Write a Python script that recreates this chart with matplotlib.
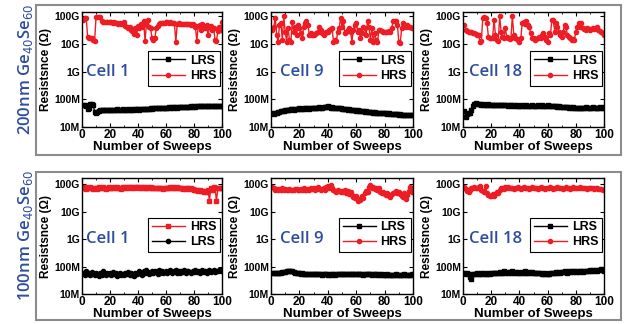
import numpy as np
import matplotlib
matplotlib.use("Agg")
import matplotlib.pyplot as plt
from matplotlib.patches import Rectangle

# sweep index and resistance values (stored as log10 of ohms)
sweeps = np.arange(1, 101)

top_cell1_hrs = [10.85, 10.92, 10.93, 10.25, 10.22, 10.2, 10.2, 10.15, 10.1, 10.95,
                 10.97, 10.96, 10.95, 10.82, 10.78, 10.78, 10.79, 10.78, 10.77, 10.78,
                 10.77, 10.76, 10.77, 10.75, 10.74, 10.72, 10.75, 10.7, 10.76, 10.8,
                 10.65, 10.6, 10.55, 10.62, 10.5, 10.45, 10.35, 10.55, 10.3, 10.65,
                 10.55, 10.7, 10.6, 10.82, 10.1, 10.7, 10.85, 10.6, 10.55, 10.2,
                 10.15, 10.2, 10.55, 10.65, 10.7, 10.74, 10.75, 10.76, 10.76, 10.77,
                 10.77, 10.76, 10.77, 10.76, 10.75, 10.76, 10.05, 10.72, 10.74, 10.73,
                 10.72, 10.73, 10.72, 10.71, 10.72, 10.7, 10.7, 10.69, 10.7, 10.68,
                 10.6, 10.1, 10.65, 10.68, 10.5, 10.7, 10.62, 10.55, 10.68, 10.3,
                 10.6, 10.65, 10.5, 10.55, 10.15, 10.1, 10.45, 10.6, 10.5, 10.8]
top_cell1_lrs = [7.8, 7.78, 7.76, 7.65, 7.7, 7.82, 7.84, 7.8, 7.55, 7.52,
                 7.55, 7.58, 7.6, 7.6, 7.61, 7.6, 7.62, 7.61, 7.6, 7.62,
                 7.62, 7.61, 7.63, 7.62, 7.64, 7.62, 7.63, 7.62, 7.64, 7.63,
                 7.62, 7.63, 7.64, 7.63, 7.62, 7.64, 7.63, 7.64, 7.65, 7.64,
                 7.63, 7.64, 7.65, 7.64, 7.66, 7.65, 7.64, 7.66, 7.67, 7.66,
                 7.68, 7.67, 7.68, 7.69, 7.68, 7.7, 7.69, 7.7, 7.69, 7.7,
                 7.7, 7.71, 7.7, 7.71, 7.7, 7.72, 7.71, 7.7, 7.72, 7.71,
                 7.72, 7.71, 7.72, 7.73, 7.72, 7.73, 7.72, 7.74, 7.73, 7.74,
                 7.73, 7.74, 7.75, 7.74, 7.75, 7.74, 7.76, 7.75, 7.74, 7.76,
                 7.75, 7.76, 7.75, 7.76, 7.77, 7.76, 7.75, 7.76, 7.77, 7.76]

top_cell9_hrs = [10.5, 10.62, 10.93, 10.32, 10.08, 10.68, 10.75, 10.14, 10.99, 10.44,
                 10.08, 10.56, 10.14, 10.08, 10.78, 10.44, 10.62, 10.32, 10.68, 10.56,
                 10.38, 10.2, 10.62, 10.75, 10.81, 10.68, 10.32, 10.38, 10.32, 10.32,
                 10.35, 10.38, 10.44, 10.59, 10.5, 10.38, 10.32, 10.38, 10.42, 10.44,
                 10.5, 10.54, 10.56, 10.08, 10.14, 10.1, 10.44, 10.56, 10.93, 10.62,
                 10.81, 10.38, 10.44, 10.5, 10.56, 10.44, 10.08, 10.5, 10.68, 10.75,
                 10.44, 10.5, 10.2, 10.38, 10.62, 10.56, 10.32, 10.81, 10.62, 10.14,
                 10.56, 10.08, 10.38, 10.14, 10.08, 10.5, 10.5, 10.47, 10.44, 10.44,
                 10.42, 10.44, 10.47, 10.42, 10.56, 10.81, 10.81, 10.81, 10.68, 10.08,
                 10.02, 10.56, 10.75, 10.68, 10.62, 10.68, 10.62, 10.59, 10.56, 10.56]
top_cell9_lrs = [7.5, 7.48, 7.52, 7.5, 7.55, 7.53, 7.56, 7.58, 7.57, 7.6,
                 7.62, 7.6, 7.63, 7.65, 7.64, 7.62, 7.65, 7.66, 7.64, 7.67,
                 7.65, 7.66, 7.68, 7.66, 7.67, 7.68, 7.66, 7.69, 7.68, 7.69,
                 7.7, 7.68, 7.7, 7.71, 7.69, 7.7, 7.72, 7.71, 7.72, 7.74,
                 7.72, 7.7, 7.71, 7.69, 7.7, 7.68, 7.69, 7.67, 7.68, 7.66,
                 7.65, 7.66, 7.64, 7.63, 7.64, 7.62, 7.61, 7.62, 7.6, 7.59,
                 7.6, 7.58, 7.57, 7.58, 7.56, 7.55, 7.56, 7.54, 7.55, 7.54,
                 7.53, 7.52, 7.53, 7.51, 7.52, 7.5, 7.51, 7.5, 7.49, 7.5,
                 7.49, 7.48, 7.49, 7.47, 7.48, 7.47, 7.46, 7.47, 7.46, 7.45,
                 7.46, 7.45, 7.44, 7.45, 7.44, 7.43, 7.44, 7.43, 7.44, 7.43]

top_cell18_hrs = [10.68, 10.5, 10.47, 10.44, 10.42, 10.42, 10.38, 10.38, 10.35, 10.32,
                  10.3, 10.08, 10.1, 10.93, 10.95, 10.93, 10.75, 10.26, 10.22, 10.2,
                  10.22, 10.87, 10.32, 10.14, 10.1, 10.99, 10.44, 10.26, 10.2, 10.56,
                  10.26, 10.2, 10.18, 10.22, 10.99, 10.32, 10.2, 10.18, 10.14, 10.08,
                  10.2, 10.75, 10.78, 10.71, 10.81, 10.68, 10.62, 10.38, 10.2, 10.22,
                  10.14, 10.18, 10.2, 10.26, 10.22, 10.32, 10.38, 10.26, 10.14, 10.08,
                  10.38, 10.32, 10.87, 10.87, 10.44, 10.75, 10.62, 10.44, 10.32, 10.26,
                  10.44, 10.68, 10.62, 10.32, 10.26, 10.2, 10.14, 10.18, 10.14, 10.44,
                  10.62, 10.75, 10.62, 10.75, 10.56, 10.54, 10.5, 10.56, 10.54, 10.5,
                  10.54, 10.56, 10.54, 10.56, 10.59, 10.5, 10.47, 10.42, 10.38, 10.32]
top_cell18_lrs = [7.58, 7.35, 7.48, 7.5, 7.52, 7.62, 7.75, 7.84, 7.85, 7.83,
                  7.82, 7.83, 7.81, 7.82, 7.8, 7.81, 7.8, 7.82, 7.8, 7.79,
                  7.8, 7.79, 7.8, 7.78, 7.79, 7.8, 7.78, 7.79, 7.78, 7.79,
                  7.78, 7.77, 7.78, 7.79, 7.77, 7.78, 7.77, 7.78, 7.77, 7.76,
                  7.77, 7.78, 7.76, 7.77, 7.78, 7.77, 7.76, 7.77, 7.78, 7.77,
                  7.76, 7.77, 7.78, 7.77, 7.76, 7.78, 7.77, 7.76, 7.77, 7.78,
                  7.77, 7.76, 7.75, 7.76, 7.74, 7.75, 7.73, 7.74, 7.72, 7.73,
                  7.72, 7.71, 7.72, 7.71, 7.7, 7.71, 7.7, 7.71, 7.7, 7.69,
                  7.7, 7.69, 7.7, 7.7, 7.69, 7.7, 7.71, 7.7, 7.69, 7.7,
                  7.7, 7.71, 7.7, 7.7, 7.69, 7.7, 7.71, 7.7, 7.7, 7.72]

bot_cell1_hrs = [10.85, 10.88, 10.83, 10.87, 10.84, 10.9, 10.86, 10.82, 10.87, 10.85,
                 10.83, 10.88, 10.86, 10.84, 10.89, 10.87, 10.83, 10.86, 10.88, 10.85,
                 10.87, 10.84, 10.88, 10.86, 10.9, 10.85, 10.87, 10.83, 10.88, 10.86,
                 10.89, 10.86, 10.88, 10.9, 10.87, 10.89, 10.86, 10.91, 10.88, 10.9,
                 10.87, 10.89, 10.86, 10.88, 10.85, 10.87, 10.9, 10.86, 10.88, 10.85,
                 10.87, 10.84, 10.86, 10.85, 10.87, 10.84, 10.86, 10.83, 10.86, 10.84,
                 10.87, 10.85, 10.88, 10.86, 10.89, 10.87, 10.85, 10.88, 10.86, 10.84,
                 10.86, 10.83, 10.85, 10.82, 10.86, 10.84, 10.81, 10.85, 10.83, 10.8,
                 10.8, 10.78, 10.76, 10.78, 10.74, 10.76, 10.72, 10.75, 10.7, 10.78,
                 10.4, 10.85, 10.8, 10.88, 10.86, 10.38, 10.84, 10.87, 10.85, 10.86]
bot_cell1_lrs = [7.78, 7.7, 7.82, 7.72, 7.75, 7.68, 7.8, 7.74, 7.7, 7.77,
                 7.72, 7.66, 7.76, 7.7, 7.82, 7.74, 7.68, 7.78, 7.72, 7.75,
                 7.7, 7.8, 7.74, 7.76, 7.66, 7.72, 7.78, 7.7, 7.74, 7.69,
                 7.76, 7.72, 7.8, 7.68, 7.75, 7.7, 7.65, 7.78, 7.72, 7.76,
                 7.82, 7.74, 7.7, 7.84, 7.76, 7.86, 7.8, 7.72, 7.78, 7.82,
                 7.76, 7.84, 7.8, 7.74, 7.86, 7.78, 7.82, 7.76, 7.8, 7.85,
                 7.78, 7.82, 7.86, 7.76, 7.8, 7.84, 7.88, 7.78, 7.82, 7.76,
                 7.84, 7.8, 7.86, 7.78, 7.82, 7.85, 7.8, 7.76, 7.84, 7.8,
                 7.86, 7.8, 7.84, 7.78, 7.82, 7.86, 7.8, 7.84, 7.76, 7.82,
                 7.86, 7.8, 7.84, 7.88, 7.8, 7.85, 7.82, 7.88, 7.84, 7.86]

bot_cell9_hrs = [10.88, 10.84, 10.8, 10.83, 10.79, 10.82, 10.8, 10.84, 10.8, 10.82,
                 10.78, 10.8, 10.82, 10.79, 10.77, 10.8, 10.83, 10.81, 10.78, 10.8,
                 10.82, 10.79, 10.84, 10.8, 10.77, 10.82, 10.8, 10.86, 10.81, 10.84,
                 10.8, 10.83, 10.88, 10.82, 10.78, 10.82, 10.85, 10.8, 10.88, 10.92,
                 10.87, 10.96, 10.84, 10.8, 10.76, 10.72, 10.78, 10.74, 10.7, 10.76,
                 10.72, 10.78, 10.68, 10.74, 10.62, 10.7, 10.6, 10.52, 10.48, 10.55,
                 10.38, 10.46, 10.42, 10.56, 10.5, 10.66, 10.75, 10.7, 10.9, 10.95,
                 10.84, 10.88, 10.82, 10.86, 10.8, 10.84, 10.72, 10.66, 10.7, 10.62,
                 10.6, 10.66, 10.58, 10.52, 10.62, 10.66, 10.7, 10.74, 10.68, 10.72,
                 10.65, 10.58, 10.52, 10.66, 10.45, 10.6, 10.75, 10.88, 10.7, 10.74]
bot_cell9_lrs = [7.76, 7.75, 7.76, 7.77, 7.76, 7.78, 7.77, 7.79, 7.8, 7.81,
                 7.82, 7.83, 7.84, 7.83, 7.82, 7.8, 7.78, 7.77, 7.76, 7.75,
                 7.74, 7.75, 7.74, 7.73, 7.74, 7.72, 7.73, 7.72, 7.73, 7.72,
                 7.71, 7.72, 7.71, 7.72, 7.71, 7.7, 7.71, 7.72, 7.71, 7.7,
                 7.71, 7.7, 7.72, 7.71, 7.7, 7.71, 7.72, 7.71, 7.72, 7.71,
                 7.72, 7.71, 7.72, 7.73, 7.72, 7.71, 7.72, 7.73, 7.72, 7.71,
                 7.72, 7.71, 7.72, 7.71, 7.7, 7.71, 7.72, 7.71, 7.72, 7.71,
                 7.7, 7.71, 7.72, 7.71, 7.7, 7.71, 7.7, 7.71, 7.7, 7.69,
                 7.7, 7.71, 7.7, 7.69, 7.7, 7.69, 7.7, 7.71, 7.7, 7.69,
                 7.7, 7.69, 7.7, 7.71, 7.68, 7.7, 7.69, 7.7, 7.71, 7.7]

bot_cell18_hrs = [10.88, 10.82, 10.75, 10.72, 10.78, 10.84, 10.86, 10.9, 10.84, 10.86,
                  10.88, 10.92, 10.8, 10.75, 10.72, 10.92, 10.68, 10.6, 10.55, 10.58,
                  10.62, 10.56, 10.64, 10.7, 10.66, 10.78, 10.84, 10.86, 10.82, 10.88,
                  10.85, 10.88, 10.84, 10.87, 10.85, 10.82, 10.86, 10.84, 10.88, 10.85,
                  10.82, 10.86, 10.88, 10.84, 10.87, 10.85, 10.82, 10.86, 10.9, 10.86,
                  10.84, 10.86, 10.83, 10.85, 10.88, 10.84, 10.86, 10.82, 10.85, 10.87,
                  10.84, 10.88, 10.85, 10.82, 10.86, 10.84, 10.88, 10.85, 10.87, 10.84,
                  10.82, 10.85, 10.88, 10.84, 10.86, 10.83, 10.85, 10.88, 10.86, 10.84,
                  10.87, 10.85, 10.9, 10.86, 10.84, 10.87, 10.85, 10.82, 10.86, 10.84,
                  10.87, 10.85, 10.83, 10.86, 10.84, 10.82, 10.83, 10.81, 10.8, 10.78]
bot_cell18_lrs = [7.76, 7.74, 7.75, 7.73, 7.62, 7.55, 7.72, 7.74, 7.73, 7.75,
                  7.74, 7.73, 7.75, 7.74, 7.76, 7.74, 7.73, 7.75, 7.74, 7.76,
                  7.75, 7.77, 7.76, 7.78, 7.77, 7.8, 7.76, 7.78, 7.82, 7.77,
                  7.79, 7.76, 7.8, 7.78, 7.83, 7.77, 7.79, 7.76, 7.81, 7.78,
                  7.76, 7.79, 7.77, 7.82, 7.78, 7.76, 7.8, 7.77, 7.79, 7.76,
                  7.78, 7.76, 7.77, 7.75, 7.77, 7.74, 7.73, 7.75, 7.72, 7.73,
                  7.74, 7.76, 7.75, 7.78, 7.77, 7.79, 7.78, 7.8, 7.78, 7.81,
                  7.79, 7.82, 7.8, 7.78, 7.82, 7.8, 7.83, 7.79, 7.82, 7.8,
                  7.83, 7.81, 7.84, 7.82, 7.8, 7.84, 7.82, 7.85, 7.83, 7.86,
                  7.84, 7.86, 7.83, 7.87, 7.85, 7.88, 7.86, 7.9, 7.87, 7.84]

cells = ['Cell 1', 'Cell 9', 'Cell 18']
row_labels = ['200nm Ge$_{40}$Se$_{60}$', '100nm Ge$_{40}$Se$_{60}$']
ytick_vals = [1e7, 1e8, 1e9, 1e10, 1e11]
ytick_labels = ['10M', '100M', '1G', '10G', '100G']

red = '#EE1C25'
blue = '#2E4D9E'
font = 'Liberation Sans'

fig = plt.figure(figsize=(6.29, 3.24), dpi=100)

# outer grey frames round each row
for yb, h in [(0.5216, 0.463), (0.0123, 0.4568)]:
    fig.patches.append(Rectangle((0.0572, yb), 0.930, h, transform=fig.transFigure,
                                 fill=False, edgecolor='#8c8c8c', lw=1.5))

fig.text(0.04, 0.785, row_labels[0], rotation=90, ha='center', va='center',
         color=blue, fontsize=12, fontweight='semibold', family='Open Sans')
fig.text(0.04, 0.275, row_labels[1], rotation=90, ha='center', va='center',
         color=blue, fontsize=12, fontweight='semibold', family='Open Sans')

rows = [
    (0.608, 0.355, 11.145,
     [(top_cell1_lrs, top_cell1_hrs), (top_cell9_lrs, top_cell9_hrs), (top_cell18_lrs, top_cell18_hrs)]),
    (0.0926, 0.358, 11.22,
     [(bot_cell1_lrs, bot_cell1_hrs), (bot_cell9_lrs, bot_cell9_hrs), (bot_cell18_lrs, bot_cell18_hrs)]),
]
lefts = [0.1304, 0.4308, 0.7361]
widths = [0.2226, 0.2258, 0.2242]
cell_dx = [0.03, 0.065, 0.045]

for r, (bottom, height, ytop, series) in enumerate(rows):
    for c in range(3):
        ax = fig.add_axes([lefts[c], bottom, widths[c], height])
        lrs = 10 ** np.array(series[c][0])
        hrs = 10 ** np.array(series[c][1])
        if r == 1 and c == 0:
            # this panel uses squares for HRS, circles for LRS, HRS listed first
            ax.plot(sweeps, hrs, '-s', color=red, ms=3, lw=1, label='HRS')
            ax.plot(sweeps, lrs, '-o', color='black', ms=3, lw=1, label='LRS')
        else:
            ax.plot(sweeps, lrs, '-s', color='black', ms=3, lw=1, label='LRS')
            ax.plot(sweeps, hrs, '-o', color=red, ms=3, lw=1, label='HRS')
        ax.set_yscale('log')
        ax.set_xlim(0, 100)
        ax.set_ylim(1e7, 10 ** ytop)
        ax.set_yticks(ytick_vals)
        ax.set_yticklabels(ytick_labels, fontsize=7.5, fontweight='bold', family=font)
        ax.minorticks_off()
        ax.set_xticks([0, 20, 40, 60, 80, 100])
        ax.set_xticks(np.arange(10, 100, 20), minor=True)
        for lab in ax.get_xticklabels():
            lab.set_fontsize(8.5)
            lab.set_fontweight('bold')
            lab.set_family(font)
        ax.tick_params(direction='in', top=True, right=True, length=3, width=0.8, pad=1.5)
        ax.tick_params(which='minor', direction='in', top=True, length=1.5, width=0.6)
        for s in ax.spines.values():
            s.set_linewidth(1)
        ax.set_xlabel('Number of Sweeps', fontsize=9.5, fontweight='bold', family=font, labelpad=0)
        ax.set_ylabel('Resistsnce (\u03a9)', fontsize=8.5, fontweight='bold', family=font, labelpad=1.5)
        ax.text(cell_dx[c], 1e9, cells[c], transform=ax.get_yaxis_transform(),
                color=blue, fontsize=12, fontweight='semibold', family='Open Sans',
                va='center', ha='left')
        leg = ax.legend(loc='center right', bbox_to_anchor=(0.985, 0.51), fancybox=False,
                        edgecolor='black', framealpha=1, handlelength=2.6, borderpad=0.3,
                        labelspacing=0.25, handletextpad=0.4, borderaxespad=0,
                        prop={'family': font, 'weight': 'bold', 'size': 9})
        leg.get_frame().set_linewidth(0.8)

fig.savefig('out.png', dpi=100)
